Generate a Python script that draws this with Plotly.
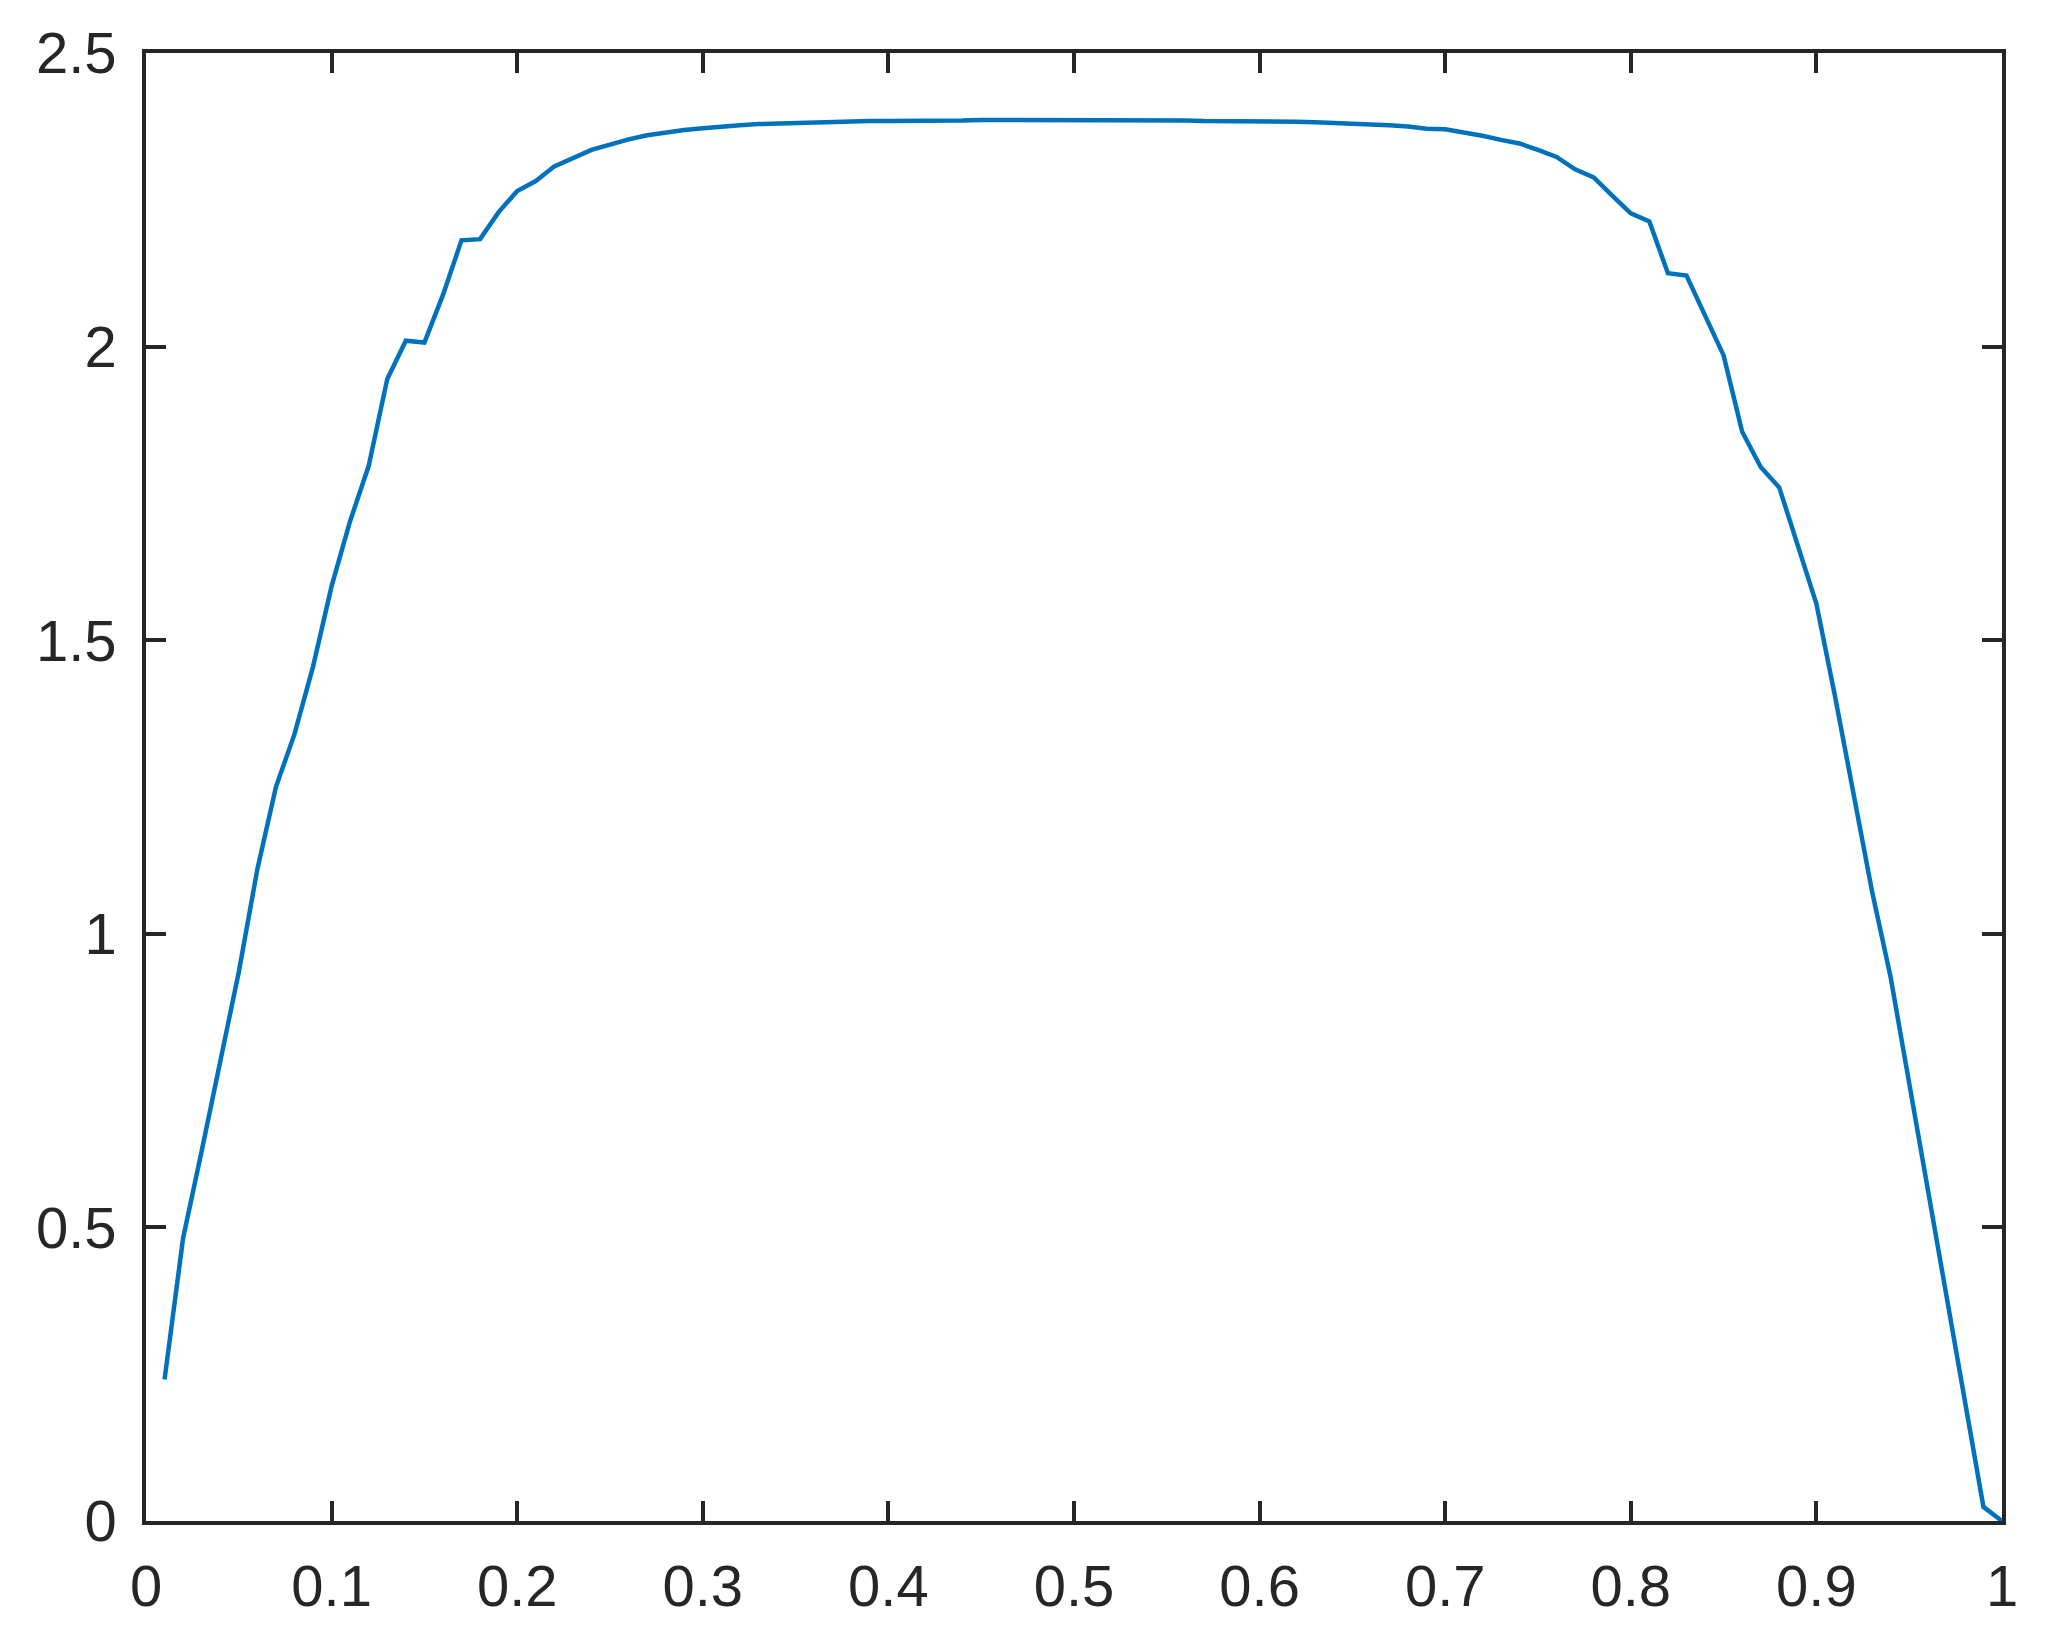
import plotly.graph_objects as go

# sample positions along x
x = [
    0.01, 0.02, 0.03, 0.04, 0.05, 0.06, 0.07, 0.08, 0.09, 0.10,
    0.11, 0.12, 0.13, 0.14, 0.15, 0.16, 0.17, 0.18, 0.19, 0.20,
    0.21, 0.22, 0.23, 0.24, 0.25, 0.26, 0.27, 0.28, 0.29, 0.30,
    0.31, 0.32, 0.33, 0.34, 0.35, 0.36, 0.37, 0.38, 0.39, 0.40,
    0.41, 0.42, 0.43, 0.44, 0.45, 0.46, 0.47, 0.48, 0.49, 0.50,
    0.51, 0.52, 0.53, 0.54, 0.55, 0.56, 0.57, 0.58, 0.59, 0.60,
    0.61, 0.62, 0.63, 0.64, 0.65, 0.66, 0.67, 0.68, 0.69, 0.70,
    0.71, 0.72, 0.73, 0.74, 0.75, 0.76, 0.77, 0.78, 0.79, 0.80,
    0.81, 0.82, 0.83, 0.84, 0.85, 0.86, 0.87, 0.88, 0.89, 0.90,
    0.91, 0.92, 0.93, 0.94, 0.95, 0.96, 0.97, 0.98, 0.99, 1.00,
]

# values
y = [
    0.241, 0.482, 0.630, 0.780, 0.935, 1.110, 1.250, 1.340, 1.455, 1.592,
    1.703, 1.797, 1.945, 2.010, 2.007, 2.088, 2.181, 2.183, 2.229, 2.265,
    2.282, 2.307, 2.320, 2.335, 2.344, 2.353, 2.360, 2.365, 2.369, 2.372,
    2.375, 2.377, 2.379, 2.380, 2.381, 2.382, 2.383, 2.383, 2.384, 2.384,
    2.384, 2.384, 2.384, 2.385, 2.386, 2.386, 2.385, 2.386, 2.386, 2.386,
    2.385, 2.386, 2.386, 2.385, 2.385, 2.385, 2.384, 2.384, 2.384, 2.384,
    2.383, 2.383, 2.382, 2.381, 2.380, 2.379, 2.377, 2.375, 2.371, 2.370,
    2.365, 2.359, 2.352, 2.346, 2.335, 2.323, 2.302, 2.288, 2.257, 2.227,
    2.213, 2.125, 2.121, 2.053, 1.985, 1.855, 1.795, 1.760, 1.661, 1.562,
    1.405, 1.243, 1.072, 0.926, 0.746, 0.566, 0.386, 0.206, 0.024, 0.000,
]

x_ticks = [0, 0.1, 0.2, 0.3, 0.4, 0.5, 0.6, 0.7, 0.8, 0.9, 1]
x_labels = ["0", "0.1", "0.2", "0.3", "0.4", "0.5", "0.6", "0.7", "0.8", "0.9", "1"]
y_ticks = [0, 0.5, 1, 1.5, 2, 2.5]
y_labels = ["0", "0.5", "1", "1.5", "2", "2.5"]

axis_col = "#262626"

fig = go.Figure()
fig.add_trace(go.Scatter(
    x=x, y=y, mode="lines",
    line=dict(color="#0072BD", width=4.5),
    showlegend=False,
))

common = dict(
    showline=True, mirror="ticks", linecolor=axis_col, linewidth=3.5,
    ticks="inside", ticklen=20, tickwidth=3.5, tickcolor=axis_col,
    showgrid=False, zeroline=False,
    tickfont=dict(family="Liberation Sans, Arial, sans-serif", size=58, color=axis_col),
)

fig.update_xaxes(range=[0, 1], tickvals=x_ticks, ticktext=x_labels,
                 ticklabelstandoff=12, **common)
fig.update_yaxes(range=[0, 2.5], tickvals=y_ticks, ticktext=y_labels,
                 ticklabelstandoff=14, **common)

# the page adds an 8px body margin, so the plot margins are shifted to match
fig.update_layout(
    width=2060, height=1650,
    margin=dict(l=138, r=66, t=42, b=137),
    paper_bgcolor="white", plot_bgcolor="white",
)

fig.write_html("out.html")
